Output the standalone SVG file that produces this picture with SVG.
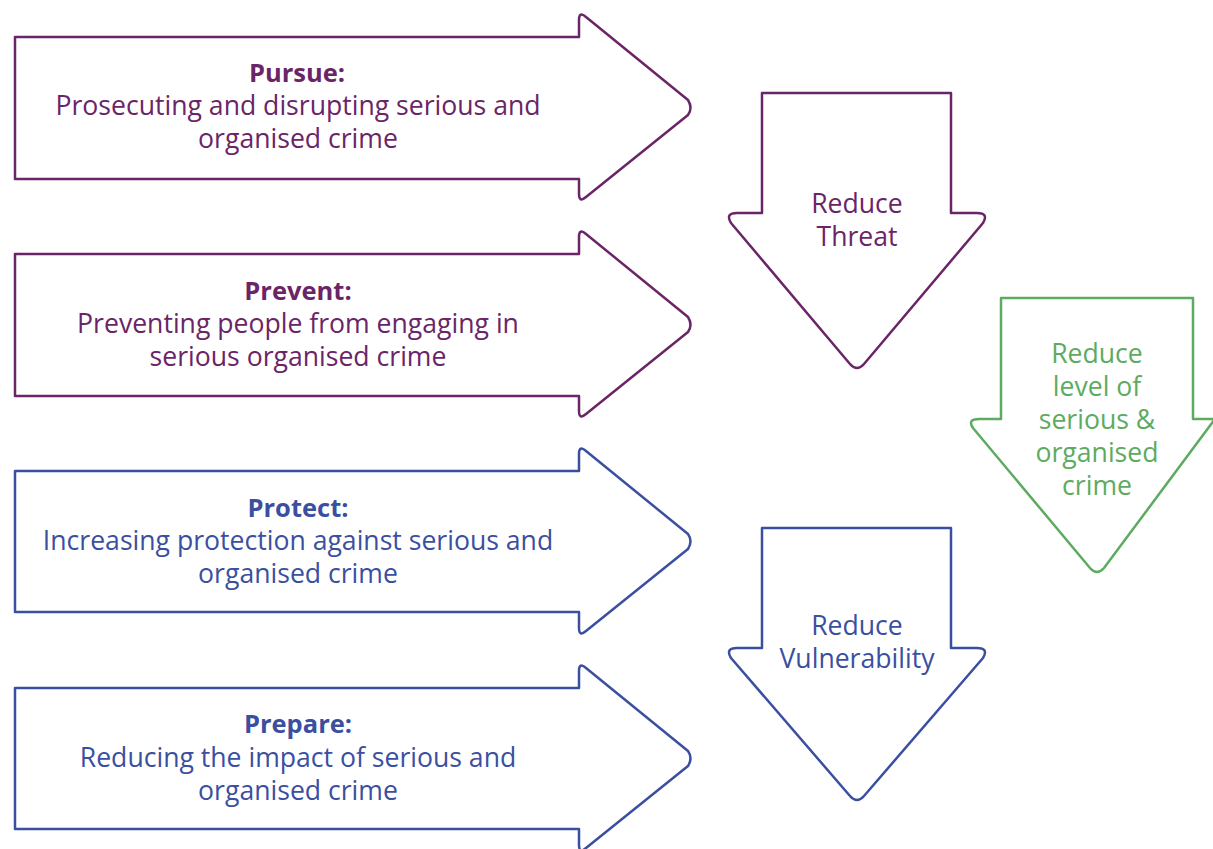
<svg xmlns="http://www.w3.org/2000/svg" width="1213" height="849" viewBox="0 0 1213 849">
<style>
.s{fill:#fff;stroke-width:2.5;stroke-linejoin:round}
.p{stroke:#6a2567}
.b{stroke:#3b4fa0}
.g{stroke:#5dab60}
text{font-family:"Open Sans","Liberation Sans",sans-serif;font-size:26.6px;text-anchor:middle}
.tp{fill:#6a2567}
.tb{fill:#3b4fa0}
.tg{fill:#5dab60}
.h{font-weight:bold;font-size:25.5px}
</style>
<rect width="1213" height="849" fill="#fff"/>
<g id="pursue">
<path class="s p" d="M15,37 H579 V20 Q579,11 586,17 L688,100 Q693,108 688,115 L586,197 Q579,203 579,194 V179 H15 Z"/>
<text class="tp h" x="297" y="82">Pursue:</text>
<text class="tp" x="298" y="115">Prosecuting and disrupting serious and</text>
<text class="tp" x="298" y="148">organised crime</text>
</g>
<g id="prevent">
<path class="s p" d="M15,254 H579 V237 Q579,228 586,234 L688,317 Q693,325 688,332 L586,414 Q579,420 579,411 V396 H15 Z"/>
<text class="tp h" x="298" y="300">Prevent:</text>
<text class="tp" x="298" y="333">Preventing people from engaging in</text>
<text class="tp" x="298" y="366">serious organised crime</text>
</g>
<g id="protect">
<path class="s b" d="M15,471 H579 V454 Q579,445 586,451 L688,534 Q693,541 688,549 L586,631 Q579,637 579,628 V612 H15 Z"/>
<text class="tb h" x="298" y="517">Protect:</text>
<text class="tb" x="298" y="550">Increasing protection against serious and</text>
<text class="tb" x="298" y="583">organised crime</text>
</g>
<g id="prepare">
<path class="s b" d="M15,688 H579 V671 Q579,662 586,668 L688,751 Q693,758 688,766 L586,848 Q579,854 579,845 V829 H15 Z"/>
<text class="tb h" x="298" y="733">Prepare:</text>
<text class="tb" x="298" y="767">Reducing the impact of serious and</text>
<text class="tb" x="298" y="800">organised crime</text>
</g>
<g id="reduce-threat">
<path class="s p" d="M762,93 H951 V213 H977 Q989,213 983,223 L864,364 Q857,372 850,364 L731,223 Q725,213 737,213 H762 Z"/>
<text class="tp" x="857" y="213">Reduce</text>
<text class="tp" x="857" y="246">Threat</text>
</g>
<g id="reduce-level">
<path class="s g" d="M1001,298 H1193 V419 H1215 L1104,568 Q1097,576 1090,568 L973,428 Q967,419 979,419 H1001 Z"/>
<text class="tg" x="1097" y="363">Reduce</text>
<text class="tg" x="1097" y="396">level of</text>
<text class="tg" x="1097" y="429">serious &amp;</text>
<text class="tg" x="1097" y="462">organised</text>
<text class="tg" x="1097" y="495">crime</text>
</g>
<g id="reduce-vulnerability">
<path class="s b" d="M762,528 H951 V648 H977 Q989,648 983,658 L864,796 Q857,804 850,796 L731,658 Q725,648 737,648 H762 Z"/>
<text class="tb" x="857" y="635">Reduce</text>
<text class="tb" x="857" y="668">Vulnerability</text>
</g>
<g id="connectors"/>
</svg>
